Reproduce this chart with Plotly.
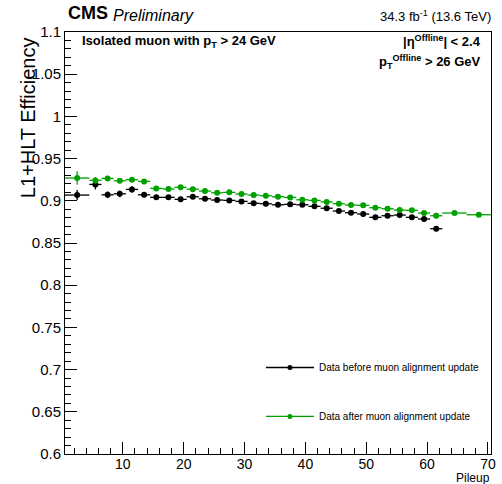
import plotly.graph_objects as go

# Pileup bins (centres and half-widths)
pu_before = [2.5, 5.5, 7.5, 9.5, 11.5, 13.5, 15.5, 17.5, 19.5, 21.5, 23.5, 25.5, 27.5, 29.5, 31.5,
             33.5, 35.5, 37.5, 39.5, 41.5, 43.5, 45.5, 47.5, 49.5, 51.5, 53.5, 55.5, 57.5, 59.5, 61.5]
pu_before_hw = [2] + [1] * 29
eff_before = [0.9068, 0.9194, 0.9071, 0.9083, 0.9135, 0.9071, 0.9041, 0.9041, 0.9017, 0.9048,
              0.9024, 0.9009, 0.9005, 0.8993, 0.8970, 0.8965, 0.8953, 0.8958, 0.8953, 0.8934,
              0.8912, 0.8879, 0.8859, 0.8843, 0.8804, 0.8823, 0.8831, 0.8804, 0.8784, 0.8669]
err_before = [0.006, 0.006, 0.004, 0.004, 0.004, 0.003, 0.003, 0.002, 0.002, 0.002,
              0.0015, 0.0015, 0.0015, 0.0015, 0.0015, 0.0015, 0.0015, 0.0015, 0.0015, 0.0015,
              0.0015, 0.0015, 0.0015, 0.0015, 0.0015, 0.0015, 0.0015, 0.0015, 0.002, 0.003]

pu_after = pu_before + [64.5, 68.5]
pu_after_hw = [2] + [1] * 29 + [2, 2]
eff_after = [0.9270, 0.9242, 0.9265, 0.9237, 0.9250, 0.9230, 0.9147, 0.9140, 0.9160, 0.9137,
             0.9115, 0.9095, 0.9100, 0.9080, 0.9068, 0.9060, 0.9048, 0.9040, 0.9012, 0.9005,
             0.8987, 0.8965, 0.8950, 0.8946, 0.8918, 0.8906, 0.8890, 0.8887, 0.8855, 0.8823,
             0.8855, 0.8835]
err_after = [0.008, 0.004, 0.003, 0.003, 0.002, 0.002, 0.002, 0.0015, 0.0015, 0.0015,
             0.001, 0.001, 0.001, 0.001, 0.001, 0.001, 0.001, 0.001, 0.001, 0.001,
             0.001, 0.001, 0.001, 0.001, 0.001, 0.001, 0.001, 0.001, 0.001, 0.001,
             0.001, 0.001]

x_tickvals = [10, 20, 30, 40, 50, 60, 70]
y_tickvals = [0.6, 0.65, 0.7, 0.75, 0.8, 0.85, 0.9, 0.95, 1.0, 1.05, 1.1]
y_ticktext = ["0.6", "0.65", "0.7", "0.75", "0.8", "0.85", "0.9", "0.95", "1", "1.05", "1.1"]

label_before = "Data before muon alignment update"
label_after = "Data after muon alignment update"

BLACK = "#000000"
GREEN = "#00a000"
FONT = "Liberation Sans, Arial, Helvetica, sans-serif"

fig = go.Figure()

fig.add_trace(go.Scatter(
    x=pu_before, y=eff_before, mode="markers",
    marker=dict(color=BLACK, size=6),
    error_x=dict(type="data", array=pu_before_hw, color=BLACK, thickness=1.3, width=0),
    error_y=dict(type="data", array=err_before, color=BLACK, thickness=1.3, width=0),
    showlegend=False,
))
fig.add_trace(go.Scatter(
    x=pu_after, y=eff_after, mode="markers",
    marker=dict(color=GREEN, size=6),
    error_x=dict(type="data", array=pu_after_hw, color=GREEN, thickness=1.3, width=0),
    error_y=dict(type="data", array=err_after, color=GREEN, thickness=1.3, width=0),
    showlegend=False,
))
# legend entries
fig.add_trace(go.Scatter(x=[None], y=[None], mode="lines+markers", name=label_before,
                         line=dict(color=BLACK, width=1.3), marker=dict(color=BLACK, size=5),
                         legend="legend"))
fig.add_trace(go.Scatter(x=[None], y=[None], mode="lines+markers", name=label_after,
                         line=dict(color=GREEN, width=1.3), marker=dict(color=GREEN, size=5),
                         legend="legend2"))

axis_common = dict(showline=True, linecolor="black", linewidth=1, mirror=True,
                   ticks="inside", tickcolor="black", tickwidth=1, showgrid=False, zeroline=False)

fig.update_xaxes(range=[0.5, 70.5], tickvals=x_tickvals, ticklen=12, ticklabelstandoff=-3,
                 tickfont=dict(family=FONT, size=14, color="black"),
                 minor=dict(ticks="inside", dtick=2, ticklen=6, tickcolor="black", showgrid=False),
                 **axis_common)
fig.update_yaxes(range=[0.6, 1.1], tickvals=y_tickvals, ticktext=y_ticktext, ticklen=12,
                 tickfont=dict(family=FONT, size=15, color="black"),
                 minor=dict(ticks="inside", dtick=0.01, ticklen=6, tickcolor="black", showgrid=False),
                 **axis_common)

legend_common = dict(bgcolor="rgba(0,0,0,0)", borderwidth=0, xanchor="left", yanchor="middle",
                     itemwidth=48,
                     font=dict(family=FONT, size=10, color="black"))
fig.update_layout(
    width=502, height=484,
    margin=dict(l=65, r=6, t=32, b=30),
    plot_bgcolor="white", paper_bgcolor="white",
    legend=dict(x=0.46, y=0.205, **legend_common),
    legend2=dict(x=0.46, y=0.089, **legend_common),
    font=dict(family=FONT, color="black"),
)

ann = [
    dict(text="<b>CMS</b>", x=66, y=13, size=18, xanchor="left"),
    dict(text="<i>Preliminary</i>", x=112, y=15, size=16, xanchor="left"),
    dict(text="34.3 fb<sup>-1</sup> (13.6 TeV)", x=498, y=16, size=13, xanchor="right"),
    dict(text="<b>Isolated muon with p<sub>T</sub> > 24 GeV</b>", x=80, y=41, size=13, xanchor="left"),
    dict(text="<b>|η<sup>Offline</sup>| < 2.4</b>", x=488, y=41, size=13, xanchor="right"),
    dict(text="<b>p<sub>T</sub><sup>Offline</sup> > 26 GeV</b>", x=488, y=62, size=13, xanchor="right"),
    dict(text="Pileup", x=497, y=478, size=12, xanchor="right"),
]
for a in ann:
    fig.add_annotation(text=a["text"], xref="paper", yref="paper",
                       x=(a["x"] - 65) / 431, y=(454.3 - a["y"]) / 422.6,
                       xanchor=a["xanchor"], yanchor="middle", showarrow=False,
                       font=dict(family=FONT, size=a["size"], color="black"))
fig.add_annotation(text="L1+HLT Efficiency", xref="paper", yref="paper",
                   x=(27 - 65) / 431, y=(454.3 - 35) / 422.6, xanchor="center", yanchor="top",
                   textangle=-90, showarrow=False,
                   font=dict(family=FONT, size=20, color="black"))

fig.write_html("out.html")
